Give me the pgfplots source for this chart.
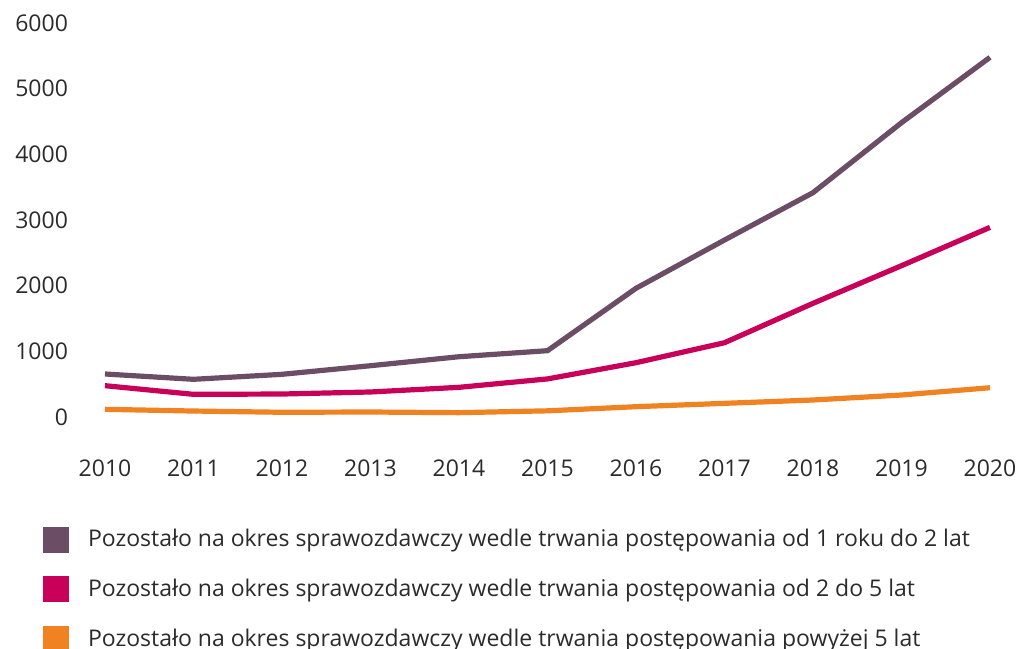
\documentclass[border=0pt]{standalone}
\usepackage{fontspec}
\setmainfont{Open Sans}
\usepackage{pgfplots}
\pgfplotsset{compat=1.18}
\definecolor{cpurple}{HTML}{6B4E66}
\definecolor{cpink}{HTML}{C8005A}
\definecolor{corange}{HTML}{F08222}
\definecolor{ctext}{HTML}{2B2B2B}
\begin{document}
\begin{tikzpicture}
\begin{axis}[
    scale only axis,
    width=442.5pt,
    height=197pt,
    xmin=2010, xmax=2020,
    ymin=0, ymax=6000,
    axis line style={draw=none},
    tick style={draw=none},
    xtick={2010,...,2020},
    ytick={0,1000,...,6000},
    /pgf/number format/assume math mode=true,
    /pgf/number format/1000 sep={},
    tick label style={font=\fontsize{11.5}{14}\selectfont, text=ctext},
    xticklabel style={anchor=north, yshift=-18pt},
    yticklabel style={anchor=east, xshift=-15pt},
    xticklabels={2010,2011,2012,2013,2014,2015,2016,2017,2018,2019,2020},
    clip=false,
    legend style={
        draw=none, fill=none,
        at={(0,0)}, anchor=north west,
        xshift=-34pt, yshift=-52pt,
        font=\fontsize{11.5}{14}\selectfont, text=ctext,
        row sep=10.6pt,
    },
    legend cell align=left,
    legend image code/.code={\fill[#1, draw=none] (0pt,-6.5pt) rectangle (13pt,6.5pt);\path (19pt,0pt);},
]
\addplot[color=cpurple, line width=2.6pt] coordinates {
    (2010,655) (2011,574) (2012,650) (2013,781) (2014,918) (2015,1010)
    (2016,1960) (2017,2695) (2018,3416) (2019,4482) (2020,5477)
};
\addlegendentry{Pozostało na okres sprawozdawczy wedle trwania postępowania od 1 roku do 2 lat}
\addplot[color=cpink, line width=2.6pt] coordinates {
    (2010,477) (2011,345) (2012,350) (2013,381) (2014,452) (2015,580)
    (2016,827) (2017,1131) (2018,1731) (2019,2304) (2020,2888)
};
\addlegendentry{Pozostało na okres sprawozdawczy wedle trwania postępowania od 2 do 5 lat}
\addplot[color=corange, line width=2.6pt] coordinates {
    (2010,117) (2011,91) (2012,72) (2013,76) (2014,66) (2015,94)
    (2016,157) (2017,208) (2018,259) (2019,335) (2020,446)
};
\addlegendentry{Pozostało na okres sprawozdawczy wedle trwania postępowania powyżej 5 lat}
\coordinate (o) at (rel axis cs:0,0);
\end{axis}
\pgfresetboundingbox
\useasboundingbox (o) ++(-52.5pt,-116pt) rectangle ++(515pt,324.5pt);
\end{tikzpicture}
\end{document}
